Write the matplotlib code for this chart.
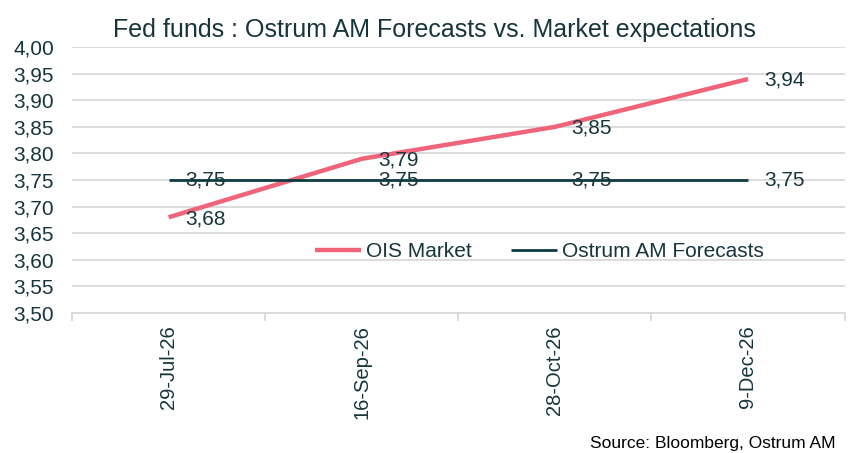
import matplotlib.pyplot as plt
import numpy as np

# data
dates = ['29-Jul-26', '16-Sep-26', '28-Oct-26', '9-Dec-26']
ois_market = [3.68, 3.79, 3.85, 3.94]
ostrum_forecasts = [3.75, 3.75, 3.75, 3.75]

text_col = '#17353D'
pink = '#F0647A'
dark = '#0F3B42'
grid_col = '#D9D9D9'

plt.rcParams['font.family'] = ['Liberation Sans', 'DejaVu Sans']

fig = plt.figure(figsize=(8.68, 4.53), dpi=100)
ax = fig.add_axes([0.083, 0.309, 0.89, 0.587])

x = np.arange(len(dates))
ax.plot(x, ois_market, color=pink, lw=3.2, solid_capstyle='butt', label='OIS Market', zorder=3)
ax.plot(x, ostrum_forecasts, color=dark, lw=2, solid_capstyle='butt', label='Ostrum AM Forecasts', zorder=3)

# data labels
def fmt(v):
    return f'{v:.2f}'.replace('.', ',')

for xi, v in zip(x, ois_market):
    ax.annotate(fmt(v), (xi, v), xytext=(12, -1), textcoords='offset points',
                va='center', ha='left', fontsize=15, color=text_col, zorder=4)
for xi, v in zip(x, ostrum_forecasts):
    ax.annotate(fmt(v), (xi, v), xytext=(12, 0), textcoords='offset points',
                va='center', ha='left', fontsize=15, color=text_col, zorder=4)

ax.set_xlim(-0.5, len(dates) - 0.5)
ax.set_ylim(3.5, 4.0)
yt = np.arange(3.5, 4.001, 0.05)
ax.set_yticks(yt)
ax.set_yticklabels([fmt(v) for v in yt], fontsize=15, color=text_col)
ax.grid(axis='y', color=grid_col, lw=1.3)
ax.set_axisbelow(True)

ax.set_xticks(x)
ax.set_xticklabels(dates, rotation=90, fontsize=14.5, color=text_col, va='top')
ax.set_xticks(np.arange(-0.5, len(dates)), minor=True)
ax.tick_params(axis='x', which='major', length=0, pad=9)
ax.tick_params(axis='x', which='minor', length=6, color=grid_col, width=1.3)
ax.tick_params(axis='y', length=0, pad=13)

for s in ['top', 'right', 'left']:
    ax.spines[s].set_visible(False)
ax.spines['bottom'].set_color(grid_col)
ax.spines['bottom'].set_linewidth(1.3)

ax.legend(loc='center', bbox_to_anchor=(0.605, 0.23), ncol=2, frameon=False,
          fontsize=15, labelcolor=text_col, handlelength=2.2,
          handletextpad=0.25, columnspacing=1.9)

fig.text(0.5, 0.933, 'Fed funds : Ostrum AM Forecasts vs. Market expectations',
         ha='center', va='center', fontsize=18, color=text_col)
fig.text(0.962, 0.022, 'Source: Bloomberg, Ostrum AM', ha='right', va='center',
         fontsize=12.5, color='black')

fig.savefig('out.png', dpi=100)
